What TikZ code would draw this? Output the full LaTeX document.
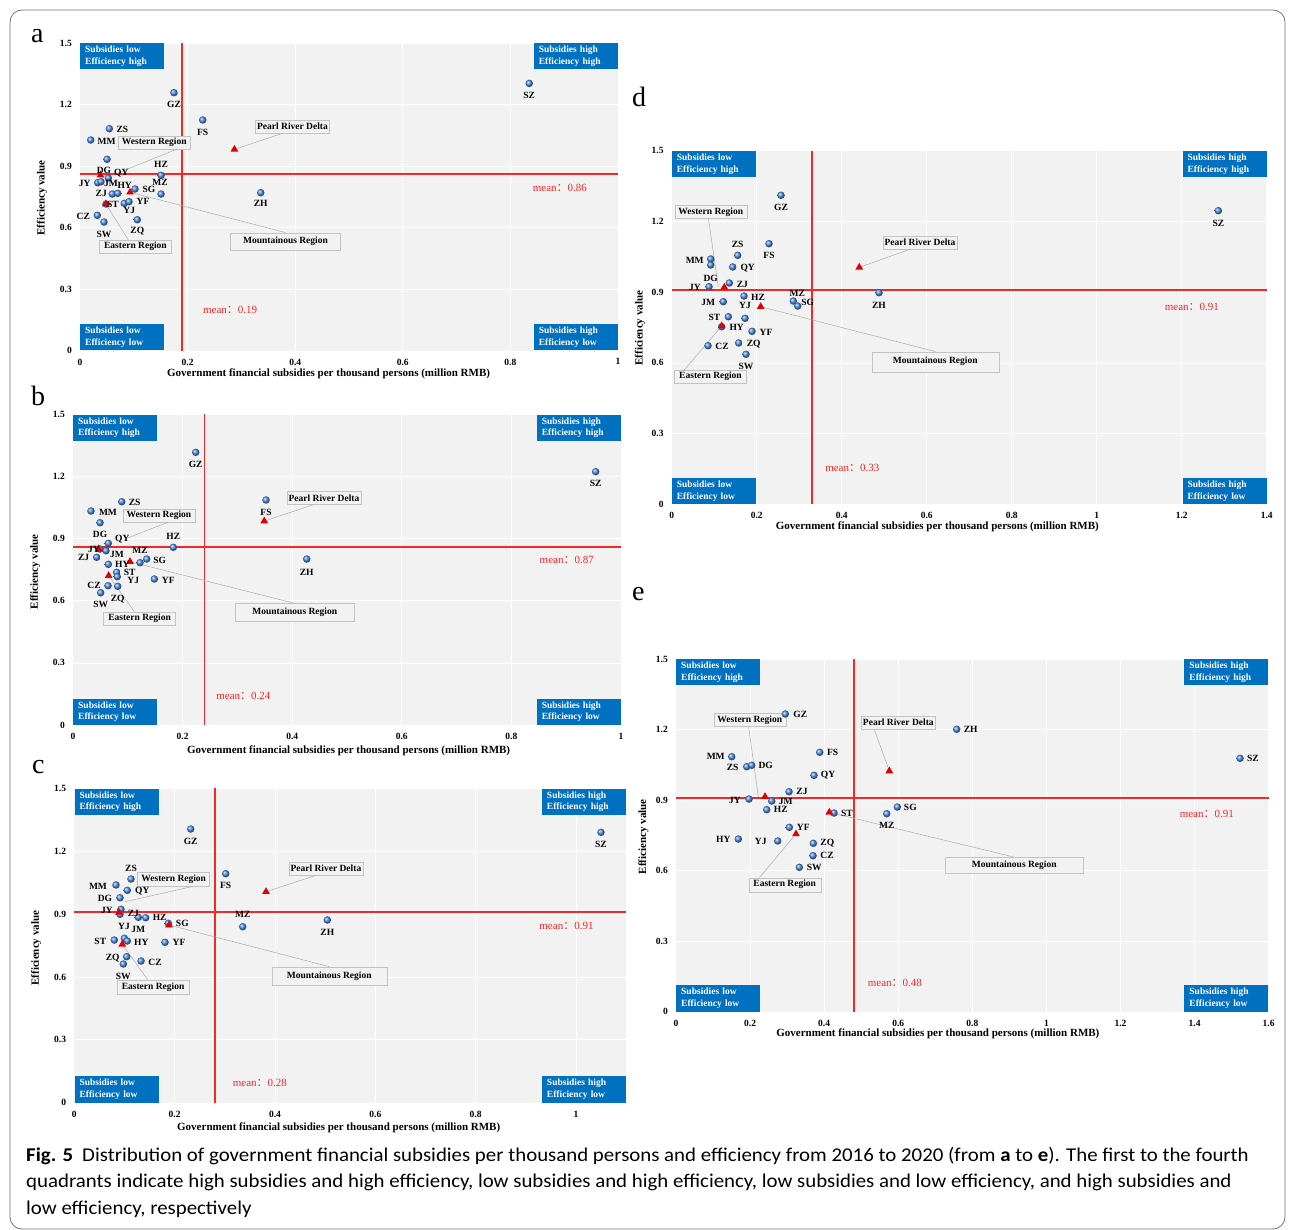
\documentclass[tikz,border=0pt]{standalone}
\usepackage{fontspec}
\setmainfont{Liberation Serif}
\newfontfamily\capfont[FakeStretch=1.07]{Carlito}
\newfontfamily\cjkfont{Noto Sans CJK SC}
\usetikzlibrary{
  shapes.geometric,
  positioning,
}
\definecolor{plotgray}{RGB}{242,242,242}
\definecolor{quadblue}{RGB}{0,112,192}
\definecolor{dotblue}{RGB}{75,140,225}
\definecolor{meanred}{RGB}{245,40,40}
\definecolor{trired}{RGB}{225,0,0}
\definecolor{boxedge}{RGB}{195,195,195}
\definecolor{leadgray}{RGB}{170,170,170}
\tikzset{
  plotbg/.style={fill=plotgray},
  gridline/.style={draw=white, line width=0.7pt},
  meanline/.style={draw=meanred, line width=1.7pt},
  city/.style={
    circle,
    inner sep=0pt,
    minimum size=7.5pt,
    ball color=dotblue
  },
  cityname/.style={inner sep=0pt, font=\bfseries\fontsize{9.5}{10}\selectfont},
  region/.style={
    regular polygon,
    regular polygon sides=3,
    inner sep=0pt,
    minimum size=9pt,
    fill=trired
  },
  regionbox/.style={
    rectangle,
    draw=boxedge,
    fill=plotgray,
    inner sep=1.5pt,
    minimum width=72pt,
    minimum height=13pt,
    font=\bfseries\fontsize{9.5}{10}\selectfont
  },
  leadline/.style={draw=leadgray, line width=0.5pt},
  quadbox/.style={
    rectangle,
    fill=quadblue,
    text=white,
    align=left,
    text width=74pt,
    inner xsep=5pt,
    inner ysep=3pt,
    font=\bfseries\fontsize{9.5}{11.5}\selectfont
  },
  ticklbl/.style={inner sep=0pt, font=\bfseries\fontsize{9.5}{10}\selectfont},
  axistitle/.style={inner sep=0pt, font=\bfseries\fontsize{11}{12}\selectfont},
  meanlbl/.style={inner sep=0pt, text=meanred, font=\fontsize{11}{12}\selectfont},
  panellbl/.style={inner sep=0pt, anchor=base west, font=\fontsize{28}{30}\selectfont},
  captext/.style={inner sep=0pt, anchor=base west, font=\capfont\fontsize{19.5}{24}\selectfont},
  framebox/.style={draw=black!55, line width=0.8pt, rounded corners=12pt},
}

\begin{document}
\begin{tikzpicture}[x=1pt, y=-1pt]
  \useasboundingbox (0,0) rectangle (1295,1230);
  \draw[framebox] (10,10) rectangle (1285,1229);

  % ---------------- panel a ----------------
  \node[panellbl] (tag-a) at (31,43) {a};
  \def\citiesa{SZ/0.835/1.303/0/-12, GZ/0.1747/1.2576/0/-12, FS/0.2281/1.1244/0/-12,
    ZS/0.0545/1.082/13/-1, MM/0.0199/1.0268/16/-1, DG/0.0502/0.9327/-3/-11,
    QY/0.0526/0.8415/13/5, JY/0.0329/0.8185/-13/-1, JM/0.039/0.8234/10/-2,
    ZJ/0.06/0.7634/-11/1, HY/0.0701/0.7668/7/8, SG/0.1022/0.7878/14/0,
    HZ/0.1506/0.8546/0/11, MZ/0.1506/0.7634/-1/12, ST/0.0483/0.7146/7/0,
    YJ/0.0823/0.718/5/-7, YF/0.0911/0.7259/14/0, CZ/0.0322/0.6595/-14/-1,
    SW/0.0446/0.6268/0/-12, ZQ/0.1065/0.638/0/-11, ZH/0.3359/0.7698/0/-11}
  \begin{scope}[shift={(80,350.5)}, x=538pt, y=205pt]
    \fill[plotbg] (0,0) rectangle (1,1.5);
    \foreach \gx in {0.2,0.4,0.6,0.8,1} \draw[gridline] (\gx,0) -- (\gx,1.5);
    \foreach \gy in {0.3,0.6,0.9,1.2,1.5} \draw[gridline] (0,\gy) -- (1,\gy);
    \draw[meanline] (0.19,0) -- (0.19,1.5);
    \draw[meanline] (0,0.86) -- (1,0.86);

    % quadrants
    \node[quadbox, anchor=north west] (a-q2) at (0,1.5) {Subsidies low\\Efficiency high};
    \node[quadbox, anchor=north east] (a-q1) at (1,1.5) {Subsidies high\\Efficiency high};
    \node[quadbox, anchor=south west] (a-q3) at (0,0) {Subsidies low\\Efficiency low};
    \node[quadbox, anchor=south east] (a-q4) at (1,0) {Subsidies high\\Efficiency low};

    % regions
    \coordinate (a-tprd) at (0.287,0.981);
    \coordinate (a-twest) at (0.038,0.855);
    \coordinate (a-tmnt) at (0.093,0.772);
    \coordinate (a-teast) at (0.048,0.715);
    \coordinate (a-wtip) at (0.0712,0.867);
    \node[regionbox] (a-prd) at (0.395,1.092) {Pearl River Delta};
    \node[regionbox] (a-west) at (0.138,1.016) {Western Region};
    \node[regionbox, minimum width=110pt, minimum height=17pt] (a-mnt) at (0.382,0.533) {Mountainous Region};
    \node[regionbox] (a-east) at (0.103,0.508) {Eastern Region};
    \draw[leadline] ([xshift=27pt]a-prd.south west) -- (a-tprd);
    \draw[leadline] ([xshift=-13pt]a-west.south east) -- (a-wtip);
    \draw[leadline] (a-tmnt) -- (a-mnt.north);
    \draw[leadline] (a-teast) -- ([xshift=29pt]a-east.north west);

    % cities
    \foreach \n/\px/\py/\dx/\dy in \citiesa
      \node[city] (a-\n) at (\px,\py) {};
    \foreach \t in {tprd,twest,tmnt,teast}
      \node[region] (a-\t-mark) at (a-\t) {};
    \foreach \n/\px/\py/\dx/\dy in \citiesa
      \node[cityname] (a-\n-name) at ([xshift=\dx pt, yshift=\dy pt]a-\n.center) {\n};

    % axes
    \foreach \gx in {0,0.2,0.4,0.6,0.8,1}
      \node[ticklbl, anchor=north] at ([yshift=-8pt]\gx,0) {\gx};
    \foreach \gy in {0,0.3,0.6,0.9,1.2,1.5}
      \node[ticklbl, anchor=east] at ([xshift=-8pt]0,\gy) {\gy};
    \node[axistitle] (a-xt) at (0.462,-0.115) {Government financial subsidies per thousand persons (million RMB)};
    \node[axistitle, rotate=90] (a-yt) at (-0.0706,0.744) {Efficiency value};
    \node[meanlbl] (a-mx) at (0.279,0.198) {mean{\cjkfont ：}0.19};
    \node[meanlbl] (a-my) at (0.892,0.793) {mean{\cjkfont ：}0.86};
  \end{scope}

  % ---------------- panel b ----------------
  \node[panellbl] (tag-b) at (31,405) {b};
  \def\citiesb{GZ/0.2239/1.3167/0/-12, ZS/0.0889/1.0782/13/-1, MM/0.0328/1.0333/17/-1,
    DG/0.0493/0.9768/0/-12, QY/0.0644/0.8773/14/4, JY/0.0493/0.8498/-6/0,
    JM/0.0602/0.8416/11/-4, ZJ/0.0432/0.8098/-13/0, HZ/0.183/0.858/0/11,
    MZ/0.1223/0.7837/0/12, SG/0.1345/0.8015/13/-1, HY/0.0644/0.776/14/0,
    ST/0.0797/0.7373/13/0, YJ/0.0808/0.7161/16/-4, YF/0.1484/0.705/14/-1,
    CZ/0.0639/0.6726/-14/0, ZQ/0.0816/0.6697/0/-13, SW/0.0505/0.6388/0/-12,
    FS/0.3522/1.0865/0/-12, ZH/0.4265/0.8015/0/-13, SZ/0.9538/1.2231/0/-12}
  \begin{scope}[shift={(73,725)}, x=548pt, y=207.1pt]
    \fill[plotbg] (0,0) rectangle (1,1.5);
    \foreach \gx in {0.2,0.4,0.6,0.8,1} \draw[gridline] (\gx,0) -- (\gx,1.5);
    \foreach \gy in {0.3,0.6,0.9,1.2,1.5} \draw[gridline] (0,\gy) -- (1,\gy);
    \draw[meanline] (0.24,0) -- (0.24,1.5);
    \draw[meanline] (0,0.86) -- (1,0.86);

    % quadrants
    \node[quadbox, anchor=north west] (b-q2) at (0,1.5) {Subsidies low\\Efficiency high};
    \node[quadbox, anchor=north east] (b-q1) at (1,1.5) {Subsidies high\\Efficiency high};
    \node[quadbox, anchor=south west] (b-q3) at (0,0) {Subsidies low\\Efficiency low};
    \node[quadbox, anchor=south east] (b-q4) at (1,0) {Subsidies high\\Efficiency low};

    % regions
    \coordinate (b-tprd) at (0.349,0.985);
    \coordinate (b-twest) at (0.0469,0.850);
    \coordinate (b-tmnt) at (0.104,0.7885);
    \coordinate (b-teast) at (0.0651,0.721);
    \coordinate (b-wtip) at (0.1009,0.9044);
    \node[regionbox] (b-prd) at (0.458,1.0966) {Pearl River Delta};
    \node[regionbox] (b-west) at (0.1567,1.0116) {Western Region};
    \node[regionbox, minimum width=119pt, minimum height=18pt] (b-mnt) at (0.4046,0.543) {Mountainous Region};
    \node[regionbox] (b-east) at (0.1214,0.515) {Eastern Region};
    \draw[leadline] ([xshift=27pt]b-prd.south west) -- (b-tprd);
    \draw[leadline] ([xshift=-27pt]b-west.south east) -- (b-wtip);
    \draw[leadline] (b-tmnt) -- (b-mnt.north);
    \draw[leadline] (b-teast) -- ([xshift=31pt]b-east.north west);

    % cities
    \foreach \n/\px/\py/\dx/\dy in \citiesb
      \node[city] (b-\n) at (\px,\py) {};
    \foreach \t in {tprd,twest,tmnt,teast}
      \node[region] (b-\t-mark) at (b-\t) {};
    \foreach \n/\px/\py/\dx/\dy in \citiesb
      \node[cityname] (b-\n-name) at ([xshift=\dx pt, yshift=\dy pt]b-\n.center) {\n};

    % axes
    \foreach \gx in {0,0.2,0.4,0.6,0.8,1}
      \node[ticklbl, anchor=north] at ([yshift=-8pt]\gx,0) {\gx};
    \foreach \gy in {0,0.3,0.6,0.9,1.2,1.5}
      \node[ticklbl, anchor=east] at ([xshift=-8pt]0,\gy) {\gy};
    \node[axistitle] (b-xt) at (0.503,-0.126) {Government financial subsidies per thousand persons (million RMB)};
    \node[axistitle, rotate=90] (b-yt) at (-0.069,0.740) {Efficiency value};
    \node[meanlbl] (b-mx) at (0.311,0.141) {mean{\cjkfont ：}0.24};
    \node[meanlbl] (b-my) at (0.901,0.795) {mean{\cjkfont ：}0.87};
  \end{scope}

  % ---------------- panel c ----------------
  \node[panellbl] (tag-c) at (32,773) {c};
  \def\citiesc{GZ/0.232/1.3058/0/-12, FS/0.3018/1.0926/0/-12, ZS/0.113/1.0673/0/11,
    MM/0.0831/1.0387/-18/-1, QY/0.1056/1.0134/15/-1, DG/0.0911/0.978/-15/-1,
    JY/0.0931/0.9227/-14/-1, YJ/0.0911/0.8989/4/-12, ZJ/0.1276/0.8845/-5/4,
    HZ/0.1423/0.8826/14/0, SG/0.1874/0.8559/14/0, MZ/0.3357/0.8397/0/12,
    ZH/0.5043/0.8717/0/-12, JM/0.0997/0.7844/14/9, ST/0.0797/0.7762/-14/-1,
    HY/0.1056/0.7715/14/-1, YF/0.1808/0.7653/14/0, ZQ/0.1044/0.6966/-14/-1,
    CZ/0.133/0.676/14/-1, SW/0.0977/0.6617/0/-12, SZ/1.0498/1.2901/0/-12}
  \begin{scope}[shift={(74.3,1102.7)}, x=501.7pt, y=209.6pt]
    \fill[plotbg] (0,0) rectangle (1.1,1.5);
    \foreach \gx in {0.2,0.4,0.6,0.8,1} \draw[gridline] (\gx,0) -- (\gx,1.5);
    \foreach \gy in {0.3,0.6,0.9,1.2,1.5} \draw[gridline] (0,\gy) -- (1.1,\gy);
    \draw[meanline] (0.28,0) -- (0.28,1.5);
    \draw[meanline] (0,0.91) -- (1.1,0.91);

    % quadrants
    \node[quadbox, anchor=north west] (c-q2) at (0,1.5) {Subsidies low\\Efficiency high};
    \node[quadbox, anchor=north east] (c-q1) at (1.1,1.5) {Subsidies high\\Efficiency high};
    \node[quadbox, anchor=south west] (c-q3) at (0,0) {Subsidies low\\Efficiency low};
    \node[quadbox, anchor=south east] (c-q4) at (1.1,0) {Subsidies high\\Efficiency low};

    % regions
    \coordinate (c-tprd) at (0.3821,1.0067);
    \coordinate (c-twest) at (0.0891,0.9084);
    \coordinate (c-tmnt) at (0.1888,0.8478);
    \coordinate (c-teast) at (0.0957,0.7557);
    \coordinate (c-wtip) at (0.1011,0.959);
    \node[regionbox] (c-prd) at (0.5015,1.1164) {Pearl River Delta};
    \node[regionbox, minimum height=14pt] (c-west) at (0.1981,1.0663) {Western Region};
    \node[regionbox, minimum width=115pt, minimum height=18pt] (c-mnt) at (0.5081,0.6054) {Mountainous Region};
    \node[regionbox, minimum height=14pt] (c-east) at (0.1569,0.552) {Eastern Region};
    \draw[leadline] ([xshift=27pt]c-prd.south west) -- (c-tprd);
    \draw[leadline] ([xshift=-17pt]c-west.south east) -- (c-wtip);
    \draw[leadline] (c-tmnt) -- (c-mnt.north);
    \draw[leadline] (c-teast) -- ([xshift=31pt]c-east.north west);

    % cities
    \foreach \n/\px/\py/\dx/\dy in \citiesc
      \node[city] (c-\n) at (\px,\py) {};
    \foreach \t in {tprd,twest,tmnt,teast}
      \node[region] (c-\t-mark) at (c-\t) {};
    \foreach \n/\px/\py/\dx/\dy in \citiesc
      \node[cityname] (c-\n-name) at ([xshift=\dx pt, yshift=\dy pt]c-\n.center) {\n};

    % axes
    \foreach \gx in {0,0.2,0.4,0.6,0.8,1}
      \node[ticklbl, anchor=north] at ([yshift=-8pt]\gx,0) {\gx};
    \foreach \gy in {0,0.3,0.6,0.9,1.2,1.5}
      \node[ticklbl, anchor=east] at ([xshift=-8pt]0,\gy) {\gy};
    \node[axistitle] (c-xt) at (0.527,-0.122) {Government financial subsidies per thousand persons (million RMB)};
    \node[axistitle, rotate=90] (c-yt) at (-0.076,0.737) {Efficiency value};
    \node[meanlbl] (c-mx) at (0.370,0.095) {mean{\cjkfont ：}0.28};
    \node[meanlbl] (c-my) at (0.981,0.843) {mean{\cjkfont ：}0.91};
  \end{scope}

  % ---------------- panel d ----------------
  \node[panellbl] (tag-d) at (632,107) {d};
  \def\citiesd{GZ/0.2572/1.311/0/-12, FS/0.2289/1.1056/0/-12, ZS/0.1553/1.0564/0/11,
    MM/0.0918/1.0407/-16/-1, DG/0.0918/1.0153/0/-13, QY/0.1435/1.0068/15/-1,
    JY/0.0878/0.9232/-14/-1, ZJ/0.1355/0.9389/13/-1, HZ/0.1701/0.8838/14/-1,
    JM/0.1214/0.8596/-15/-1, YJ/0.1725/0.7891/0/13, ST/0.1332/0.7959/-14/-1,
    HY/0.1176/0.7535/15/-1, MZ/0.2861/0.8625/4/8, SG/0.2965/0.8413/10/4,
    YF/0.1889/0.734/14/-1, CZ/0.0854/0.6729/14/-1, ZQ/0.1576/0.6844/15/-1,
    SW/0.1748/0.6364/0/-12, ZH/0.4878/0.8978/0/-13, SZ/1.2861/1.2457/0/-13}
  \begin{scope}[shift={(671.7,504.3)}, x=425pt, y=235.7pt]
    \fill[plotbg] (0,0) rectangle (1.4,1.5);
    \foreach \gx in {0.2,0.4,0.6,0.8,1,1.2,1.4} \draw[gridline] (\gx,0) -- (\gx,1.5);
    \foreach \gy in {0.3,0.6,0.9,1.2,1.5} \draw[gridline] (0,\gy) -- (1.4,\gy);
    \draw[meanline] (0.33,0) -- (0.33,1.5);
    \draw[meanline] (0,0.91) -- (1.4,0.91);

    % quadrants
    \node[quadbox, anchor=north west] (d-q2) at (0,1.5) {Subsidies low\\Efficiency high};
    \node[quadbox, anchor=north east] (d-q1) at (1.4,1.5) {Subsidies high\\Efficiency high};
    \node[quadbox, anchor=south west] (d-q3) at (0,0) {Subsidies low\\Efficiency low};
    \node[quadbox, anchor=south east] (d-q4) at (1.4,0) {Subsidies high\\Efficiency low};

    % regions
    \coordinate (d-tprd) at (0.4414,1.0055);
    \coordinate (d-twest) at (0.1238,0.9207);
    \coordinate (d-tmnt) at (0.2094,0.8384);
    \coordinate (d-teast) at (0.1176,0.7565);
    \coordinate (d-wtip) at (0.1096,0.9219);
    \node[regionbox] (d-prd) at (0.5842,1.1116) {Pearl River Delta};
    \node[regionbox] (d-west) at (0.0918,1.2401) {Western Region};
    \node[regionbox, minimum width=127pt, minimum height=20pt] (d-mnt) at (0.62,0.605) {Mountainous Region};
    \node[regionbox] (d-east) at (0.0913,0.5414) {Eastern Region};
    \draw[leadline] ([xshift=28pt]d-prd.south west) -- (d-tprd);
    \draw[leadline] ([xshift=34pt]d-west.south west) -- (d-wtip);
    \draw[leadline] (d-tmnt) -- (d-mnt.north);
    \draw[leadline] ([xshift=10pt]d-east.north west) -- (d-teast);

    % cities
    \foreach \n/\px/\py/\dx/\dy in \citiesd
      \node[city] (d-\n) at (\px,\py) {};
    \foreach \t in {tprd,twest,tmnt,teast}
      \node[region] (d-\t-mark) at (d-\t) {};
    \foreach \n/\px/\py/\dx/\dy in \citiesd
      \node[cityname] (d-\n-name) at ([xshift=\dx pt, yshift=\dy pt]d-\n.center) {\n};

    % axes
    \foreach \gx in {0,0.2,0.4,0.6,0.8,1,1.2,1.4}
      \node[ticklbl, anchor=north] at ([yshift=-8pt]\gx,0) {\gx};
    \foreach \gy in {0,0.3,0.6,0.9,1.2,1.5}
      \node[ticklbl, anchor=east] at ([xshift=-8pt]0,\gy) {\gy};
    \node[axistitle] (d-xt) at (0.625,-0.095) {Government financial subsidies per thousand persons (million RMB)};
    \node[axistitle, rotate=90] (d-yt) at (-0.0746,0.747) {Efficiency value};
    \node[meanlbl] (d-mx) at (0.425,0.153) {mean{\cjkfont ：}0.33};
    \node[meanlbl] (d-my) at (1.224,0.838) {mean{\cjkfont ：}0.91};
  \end{scope}

  % ---------------- panel e ----------------
  \node[panellbl] (tag-e) at (632,600) {e};
  \def\citiese{GZ/0.2951/1.2663/15/0, MM/0.1504/1.0846/-16/0, ZS/0.1909/1.0421/-14/-1,
    DG/0.2044/1.0481/14/0, FS/0.388/1.1034/13/0, QY/0.3726/1.0055/14/0,
    ZJ/0.3051/0.9358/13/0, JY/0.1971/0.9047/-14/-1, JM/0.2584/0.8962/14/0,
    HZ/0.2449/0.8592/14/0, ST/0.4266/0.8452/13/0, SG/0.5975/0.8707/13/0,
    MZ/0.5689/0.8422/0/-12, YF/0.3059/0.7843/14/0, HY/0.1682/0.7346/-15/0,
    YJ/0.2746/0.7261/-17/0, ZQ/0.3707/0.7163/14/0, CZ/0.3699/0.6635/14/0,
    SW/0.3329/0.6142/15/0, ZH/0.7578/1.2012/14/0, SZ/1.5227/1.0778/13/0}
  \begin{scope}[shift={(676,1011.7)}, x=370.4pt, y=235.1pt]
    \fill[plotbg] (0,0) rectangle (1.6,1.5);
    \foreach \gx in {0.2,0.4,0.6,0.8,1,1.2,1.4,1.6} \draw[gridline] (\gx,0) -- (\gx,1.5);
    \foreach \gy in {0.3,0.6,0.9,1.2,1.5} \draw[gridline] (0,\gy) -- (1.6,\gy);
    \draw[meanline] (0.48,0) -- (0.48,1.5);
    \draw[meanline] (0,0.91) -- (1.6,0.91);

    % quadrants
    \node[quadbox, anchor=north west] (e-q2) at (0,1.5) {Subsidies low\\Efficiency high};
    \node[quadbox, anchor=north east] (e-q1) at (1.6,1.5) {Subsidies high\\Efficiency high};
    \node[quadbox, anchor=south west] (e-q3) at (0,0) {Subsidies low\\Efficiency low};
    \node[quadbox, anchor=south east] (e-q4) at (1.6,0) {Subsidies high\\Efficiency low};

    % regions
    \coordinate (e-tprd) at (0.5759,1.0238);
    \coordinate (e-twest) at (0.2403,0.9145);
    \coordinate (e-tmnt) at (0.4139,0.8481);
    \coordinate (e-teast) at (0.324,0.7559);
    \coordinate (e-wtip) at (0.2222,0.9145);
    \node[regionbox] (e-prd) at (0.6002,1.2293) {Pearl River Delta};
    \node[regionbox] (e-west) at (0.1992,1.2407) {Western Region};
    \node[regionbox, minimum width=138pt, minimum height=16pt] (e-mnt) at (0.9131,0.6227) {Mountainous Region};
    \node[regionbox, minimum height=14pt] (e-east) at (0.2935,0.5402) {Eastern Region};
    \draw[leadline] ([xshift=13pt]e-prd.south west) -- (e-tprd);
    \draw[leadline] ([xshift=35pt]e-west.south west) -- (e-wtip);
    \draw[leadline] (e-tmnt) -- (e-mnt.north);
    \draw[leadline] ([xshift=11pt]e-east.north west) -- (e-teast);

    % cities
    \foreach \n/\px/\py/\dx/\dy in \citiese
      \node[city] (e-\n) at (\px,\py) {};
    \foreach \t in {tprd,twest,tmnt,teast}
      \node[region] (e-\t-mark) at (e-\t) {};
    \foreach \n/\px/\py/\dx/\dy in \citiese
      \node[cityname] (e-\n-name) at ([xshift=\dx pt, yshift=\dy pt]e-\n.center) {\n};

    % axes
    \foreach \gx in {0,0.2,0.4,0.6,0.8,1,1.2,1.4,1.6}
      \node[ticklbl, anchor=north] at ([yshift=-8pt]\gx,0) {\gx};
    \foreach \gy in {0,0.3,0.6,0.9,1.2,1.5}
      \node[ticklbl, anchor=east] at ([xshift=-8pt]0,\gy) {\gy};
    \node[axistitle] (e-xt) at (0.707,-0.095) {Government financial subsidies per thousand persons (million RMB)};
    \node[axistitle, rotate=90] (e-yt) at (-0.088,0.744) {Efficiency value};
    \node[meanlbl] (e-mx) at (0.591,0.123) {mean{\cjkfont ：}0.48};
    \node[meanlbl] (e-my) at (1.433,0.841) {mean{\cjkfont ：}0.91};
  \end{scope}

  % caption
  \node[captext] (cap1) at (26,1161) {\textbf{Fig. 5}\hspace{9pt}Distribution of government financial subsidies per thousand persons and efficiency from 2016 to 2020 (from \textbf{a} to \textbf{e}). The first to the fourth};
  \node[captext] (cap2) at (26,1187.5) {quadrants indicate high subsidies and high efficiency, low subsidies and high efficiency, low subsidies and low efficiency, and high subsidies and};
  \node[captext] (cap3) at (26,1214) {low efficiency, respectively};

\end{tikzpicture}
\end{document}
